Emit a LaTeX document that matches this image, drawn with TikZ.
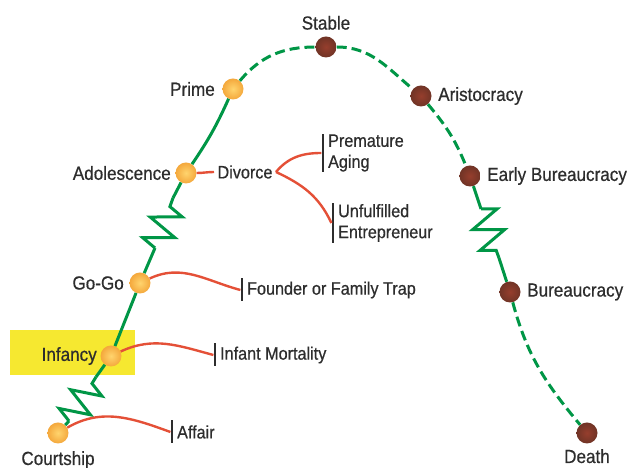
\documentclass[tikz,border=0pt]{standalone}
\usepackage{fontspec}
\setmainfont{Liberation Sans}[FakeStretch=0.9,FakeBold=0.6]
\usetikzlibrary{positioning,decorations.pathmorphing}

\definecolor{lifegreen}{RGB}{0,150,70}
\definecolor{trapred}{RGB}{228,80,55}
\definecolor{textgray}{RGB}{45,45,45}
\definecolor{boxyellow}{RGB}{246,232,48}
\definecolor{youngout}{RGB}{244,168,60}
\definecolor{youngin}{RGB}{255,212,110}
\definecolor{oldout}{RGB}{112,52,38}
\definecolor{oldin}{RGB}{150,62,45}

\begin{document}
\begin{tikzpicture}[x=1pt,y=1pt,
  stage/.style={circle, minimum size=21pt, inner sep=0pt},
  young/.style={stage, inner color=youngin, outer color=youngout},
  old/.style={stage, inner color=oldin, outer color=oldout},
  life/.style={draw=lifegreen, line width=3pt},
  later/.style={life, dash pattern=on 10pt off 5pt},
  spring/.style={life, line join=miter, decorate, decoration={zigzag, segment length=22pt, amplitude=15pt}},
  trap/.style={draw=trapred, line width=2.4pt},
  stopbar/.style={fill=textgray, minimum width=2.8pt, minimum height=23pt, inner sep=0pt},
  stagelabel/.style={text=textgray, font=\fontsize{19}{21}\selectfont},
  traplabel/.style={text=textgray, font=\fontsize{18}{21}\selectfont, align=left}]

\useasboundingbox (0,0) rectangle (633,468);

\node[fill=boxyellow, minimum width=125pt, minimum height=45pt, inner sep=0pt] (infbox) at (72.5,115.5) {};

\node[young] (cour) at (58,35) {};
\node[young] (inf) at (111,112) {};
\node[young] (gogo) at (140,185) {};
\node[young] (adol) at (186,295) {};
\node[young] (prime) at (233,379) {};
\node[old] (stable) at (326,421) {};
\node[old] (aris) at (421,372) {};
\node[old] (early) at (470,292) {};
\node[old] (bur) at (510,176) {};
\node[old] (death) at (587,35) {};

\foreach \n/\t/\pos/\gap in {cour/Courtship/below/4pt, inf/Infancy/left/0pt, gogo/Go-Go/left/2pt,
                        adol/Adolescence/left/1pt, prime/Prime/left/4pt, stable/Stable/above/3pt,
                        aris/Aristocracy/right/3pt, early/Early Bureaucracy/right/3pt,
                        bur/Bureaucracy/right/3pt, death/Death/below/2pt}
{
	\node[stagelabel, \pos=\gap of \n] (\n-text) {\t};
};

\coordinate (z1a) at (69,47);
\coordinate (z1b) at (96,91);
\coordinate (z2a) at (155,220);
\coordinate (z2b) at (173,270);
\coordinate (z3a) at (481,259);
\coordinate (z3b) at (499,210);

\draw[life] (cour) -- (z1a);
\draw[spring] (z1a) -- (z1b);
\draw[life] (z1b) -- (inf);
\draw[life] (inf) -- (gogo);
\draw[life] (gogo) -- (z2a);
\draw[spring] (z2a) -- (z2b);
\draw[life] (z2b) -- (adol);
\draw[life] (adol) to[bend right=5] (prime);
\draw[later] (prime) to[out=50,in=180] (stable);
\draw[later] (stable) to[out=0,in=140] (aris);
\draw[later] (aris) to[out=-50,in=112] (early);
\draw[life] (early) -- (z3a);
\draw[spring] (z3a) -- (z3b);
\draw[life] (z3b) -- (bur);
\draw[later] (bur) to[out=-75,in=130] (death);

\node[stopbar] (affair-bar) at (172,36) {};
\node[stopbar] (mort-bar) at (215,113) {};
\node[stopbar] (trap-bar) at (242,178) {};
\node[stopbar, minimum height=38pt] (aging-bar) at (323,315) {};
\node[stopbar, minimum height=40pt] (entre-bar) at (333,245) {};

\node[traplabel] (divorce) at (245,296) {Divorce};
\node[traplabel, right=0pt of affair-bar] (affair) {Affair};
\node[traplabel, right=0pt of mort-bar] (mort) {Infant Mortality};
\node[traplabel, right=0pt of trap-bar] (famtrap) {Founder or Family Trap};
\node[traplabel, right=0pt of aging-bar] (aging) {Premature\\Aging};
\node[traplabel, right=0pt of entre-bar] (entre) {Unfulfilled\\Entrepreneur};

\draw[trap] (cour) to[out=30,in=160] (affair-bar.west);
\draw[trap] (inf) to[out=25,in=165] (mort-bar.west);
\draw[trap] (gogo) to[out=25,in=165] (trap-bar.west);
\draw[trap] (adol) to[out=0,in=180] (divorce);
\draw[trap] (divorce.east) to[out=50,in=180] (aging-bar.west);
\draw[trap] (divorce.east) to[out=-25,in=115] (entre-bar.west);
\end{tikzpicture}
\end{document}
